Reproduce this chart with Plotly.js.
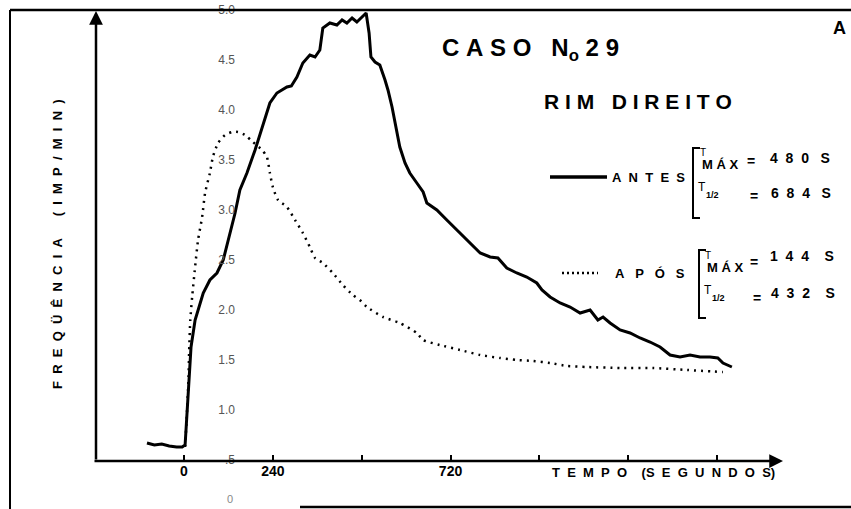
<!DOCTYPE html>
<html>
<head>
<meta charset="utf-8">
<script src="https://cdn.plot.ly/plotly-3.0.1.min.js"></script>
<style>html,body{margin:0;padding:0;background:#fff;}#chart{width:851px;height:509px;}</style>
</head>
<body>
<div id="chart"></div>
<script>
// ---- data (time in seconds, frequency in imp/min) ----
const T_ANTES = [-100,-80,-60,-40,-20,-5,3,8,14,19,30,41,52,70,89,106,120,138,151,170,192,211,232,251,278,290,305,321,340,354,367,375,394,413,427,440,454,467,481,492,500,505,516,529,543,551,562,570,575,583,597,610,629,646,656,683,710,737,773,800,827,848,872,899,926,953,967,989,1016,1043,1070,1097,1118,1132,1151,1178,1205,1232,1259,1286,1313,1340,1367,1394,1421,1442,1456,1480];
const V_ANTES = [0.67,0.65,0.66,0.64,0.63,0.63,0.65,0.97,1.30,1.63,1.90,2.03,2.17,2.30,2.37,2.50,2.70,2.97,3.20,3.37,3.60,3.83,4.07,4.17,4.23,4.24,4.33,4.47,4.55,4.53,4.60,4.82,4.87,4.85,4.90,4.87,4.92,4.88,4.93,4.97,4.77,4.53,4.48,4.45,4.30,4.20,4.03,3.87,3.77,3.63,3.47,3.37,3.27,3.18,3.07,3.00,2.90,2.80,2.66,2.57,2.53,2.52,2.42,2.37,2.33,2.27,2.20,2.13,2.07,2.03,1.97,2.00,1.90,1.93,1.87,1.80,1.77,1.72,1.68,1.63,1.55,1.53,1.55,1.53,1.53,1.52,1.47,1.43];
const T_APOS = [3,8,12,14,17,22,30,38,49,57,70,78,92,111,130,146,165,186,211,224,232,240,254,278,300,321,340,354,375,402,429,456,475,494,538,583,629,646,691,746,800,854,899,943,989,1035,1089,1178,1267,1359,1456];
const V_APOS = [0.63,0.97,1.30,1.60,1.90,2.13,2.43,2.70,2.93,3.17,3.37,3.53,3.67,3.75,3.78,3.78,3.75,3.68,3.60,3.53,3.37,3.23,3.10,3.03,2.90,2.77,2.63,2.52,2.47,2.37,2.25,2.15,2.10,2.03,1.93,1.87,1.77,1.70,1.65,1.60,1.55,1.52,1.50,1.49,1.47,1.44,1.43,1.42,1.42,1.40,1.38];
const X_TICKS = [0,240,480,720,960,1200,1440];
const X_TICK_LABELS = ['0','240',' ','720',' ',' ',' '];
const Y_TICKS = [0.5,1.0,1.5,2.0,2.5,3.0,3.5,4.0,4.5,5.0];
const Y_TICK_LABELS = ['.5','1.0','1.5','2.0','2.5','3.0','3.5','4.0','4.5','5.0'];
const Y_ZERO_LABEL = '0';

// ---- layout helpers (pixel -> paper) ----
const W = 851, H = 509, ML = 96, MR = 71, MT = 10, MB = 0;
const PW = W - ML - MR, PH = H - MT - MB;
const px = p => (p - ML) / PW;
const py = p => (H - MB - p) / PH;
const NB = '\u00A0';
const sp = (s, n) => s.split('').join(NB.repeat(n)).replace(/ /g, NB);
const FONT = 'Liberation Sans, Arial, sans-serif';

function ann(text, x, y, size, extra) {
  return Object.assign({
    text: text, x: px(x), y: py(y), xref: 'paper', yref: 'paper',
    showarrow: false, xanchor: 'center', yanchor: 'middle',
    font: {family: FONT, size: size, color: '#000', weight: 'bold'}
  }, extra || {});
}

const annotations = [
  // axis arrows
  {x: px(96), y: py(11), xref: 'paper', yref: 'paper', text: '', showarrow: true,
   ax: 0, ay: 450, arrowhead: 2, arrowsize: 1.1, arrowwidth: 2.5, arrowcolor: '#000'},
  {x: px(783), y: py(461), xref: 'paper', yref: 'paper', text: '', showarrow: true,
   ax: -690, ay: 0, arrowhead: 2, arrowsize: 1.1, arrowwidth: 2.5, arrowcolor: '#000'},
  ann(Y_ZERO_LABEL, 230, 499, 11, {font: {family: FONT, size: 11, color: '#888'}}),
  // titles
  ann(sp('CASO', 1) + NB + NB + NB + 'N<sub>o</sub>' + NB + sp('29', 1), 440, 50, 24, {xanchor: 'left'}),
  ann(sp('RIM', 1) + NB + NB + NB + sp('DIREITO', 1), 638, 102, 21),
  ann('A', 839, 28, 18),
  ann(sp('FREQÜÊNCIA', 2) + NB.repeat(6) + sp('(IMP/MIN)', 2), 57, 244, 13, {textangle: -90}),
  ann(sp('TEMPO', 2) + NB.repeat(4) + '(' + sp('SEGUNDOS', 2) + ')', 663, 472, 13),
  // legend ANTES
  ann(sp('ANTES', 2), 648, 177, 13),
  ann('T', 703, 153, 10, {font: {family: FONT, size: 10, color: '#000'}}),
  ann(sp('MÁX', 1), 720, 164, 13),
  ann('=', 751, 161, 14),
  ann(sp('480', 2) + NB.repeat(3) + 'S', 800, 158, 14),
  ann('T', 702, 187, 12, {font: {family: FONT, size: 12, color: '#000'}}),
  ann('<sub>1/2</sub>', 712, 195, 13),
  ann('=', 754, 196, 14),
  ann(sp('684', 2) + NB.repeat(3) + 'S', 801, 193, 14),
  // legend APOS
  ann(sp('APÓS', 3), 650, 273, 13),
  ann('T', 708, 255, 10, {font: {family: FONT, size: 10, color: '#000'}}),
  ann(sp('MÁX', 1), 725, 267, 13),
  ann('=', 754, 262, 14),
  ann(sp('144', 2) + NB.repeat(4) + 'S', 802, 256, 14),
  ann('T', 708, 290, 12, {font: {family: FONT, size: 12, color: '#000'}}),
  ann('<sub>1/2</sub>', 718, 298, 13),
  ann('=', 757, 298, 14),
  ann(sp('432', 2) + NB.repeat(4) + 'S', 803, 293, 14)
];

const L = (x0, y0, x1, y1, w, dash) => ({type: 'line', xref: 'paper', yref: 'paper',
  x0: px(x0), y0: py(y0), x1: px(x1), y1: py(y1), line: {color: '#000', width: w, dash: dash || 'solid'}});
const bracket = (x, y0, y1) => ({type: 'path', xref: 'paper', yref: 'paper',
  path: 'M ' + px(x + 7) + ' ' + py(y0) + ' L ' + px(x) + ' ' + py(y0) + ' L ' + px(x) + ' ' + py(y1) + ' L ' + px(x + 7) + ' ' + py(y1),
  line: {color: '#000', width: 2}});

const shapes = [
  L(10, 10, 851, 10, 2.5),
  L(10, 10, 10, 509, 2),
  L(300, 507, 851, 507, 2.5),
  L(550, 177, 607, 177, 3.5),
  L(562, 273, 598, 273, 2.5, '2px,3px'),
  bracket(693, 148, 218),
  bracket(699, 250, 318)
];

const traces = [
  {x: T_ANTES, y: V_ANTES, type: 'scatter', mode: 'lines', name: 'ANTES',
   line: {color: '#000', width: 3}},
  {x: T_APOS, y: V_APOS, type: 'scatter', mode: 'lines', name: 'APÓS',
   line: {color: '#000', width: 2.5, dash: '2px,5px', shape: 'spline', smoothing: 0.6}}
];

const layout = {
  width: W, height: H, margin: {l: ML, r: MR, t: MT, b: MB, pad: 0},
  paper_bgcolor: '#fff', plot_bgcolor: '#fff', showlegend: false,
  font: {family: FONT, color: '#000'},
  xaxis: {range: [-237.7, 1610], anchor: 'free', position: py(461),
    showline: false, showgrid: false, zeroline: false,
    ticks: 'inside', ticklen: 6, tickwidth: 2, tickcolor: '#000',
    tickvals: X_TICKS, ticktext: X_TICK_LABELS,
    tickfont: {family: FONT, size: 14, color: '#000', weight: 'bold'}},
  yaxis: {range: [0.01, 5.0], anchor: 'free', position: px(235),
    showline: false, showgrid: false, zeroline: false, ticks: '',
    tickvals: Y_TICKS, ticktext: Y_TICK_LABELS,
    tickfont: {family: FONT, size: 12, color: '#555'}},
  annotations: annotations,
  shapes: shapes
};

Plotly.newPlot('chart', traces, layout, {staticPlot: true, displayModeBar: false});
</script>
</body>
</html>
